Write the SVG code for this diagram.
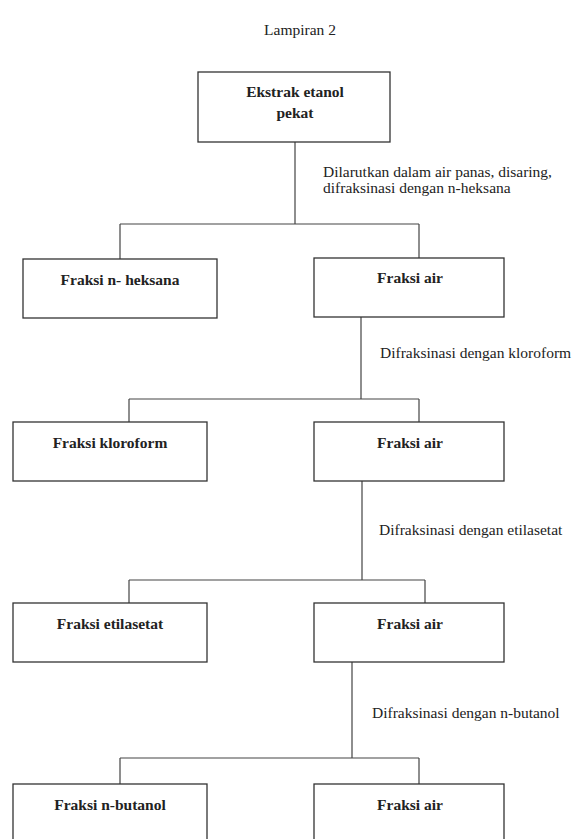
<svg xmlns="http://www.w3.org/2000/svg" width="582" height="839" viewBox="0 0 582 839">
<style>
.box{fill:#fff;stroke:#333;stroke-width:1.3}
.ln{fill:none;stroke:#444;stroke-width:1.2}
text{font-family:"Liberation Serif","Times New Roman","DejaVu Serif",serif;fill:#222}
.bt{font-weight:bold;font-size:15.5px;text-anchor:middle}
.lb{font-size:15.5px}
</style>
<rect width="582" height="839" fill="#fff"/>
<text class="lb" x="300" y="35" text-anchor="middle">Lampiran 2</text>
<g id="connectors">
<path class="ln" d="M295 142V224M120 224H419M120 224V259M419 224V258"/>
<path class="ln" d="M361 317V399M129 399H419M129 399V422M419 399V422"/>
<path class="ln" d="M362 481V580M129 580H425M129 580V603M425 580V603"/>
<path class="ln" d="M352 662V758M120 758H419M120 758V784M419 758V784"/>
</g>
<g id="labels">
<text class="lb" x="323" y="177">Dilarutkan dalam air panas, disaring,</text>
<text class="lb" x="323" y="193">difraksinasi dengan n-heksana</text>
<text class="lb" x="380" y="358">Difraksinasi dengan kloroform</text>
<text class="lb" x="379" y="535">Difraksinasi dengan etilasetat</text>
<text class="lb" x="372" y="718">Difraksinasi dengan n-butanol</text>
</g>
<g id="n0"><rect class="box" x="198" y="72" width="192" height="70"/><text class="bt" x="295" y="97">Ekstrak etanol</text><text class="bt" x="295" y="118">pekat</text></g>
<g id="n1"><rect class="box" x="23" y="259" width="194" height="59"/><text class="bt" x="120" y="285">Fraksi n- heksana</text></g>
<g id="n2"><rect class="box" x="314" y="258" width="190" height="59"/><text class="bt" x="410" y="283">Fraksi air</text></g>
<g id="n3"><rect class="box" x="13" y="422" width="194" height="59"/><text class="bt" x="110" y="448">Fraksi kloroform</text></g>
<g id="n4"><rect class="box" x="314" y="422" width="190" height="59"/><text class="bt" x="410" y="448">Fraksi air</text></g>
<g id="n5"><rect class="box" x="13" y="603" width="194" height="59"/><text class="bt" x="110" y="629">Fraksi etilasetat</text></g>
<g id="n6"><rect class="box" x="314" y="603" width="190" height="59"/><text class="bt" x="410" y="629">Fraksi air</text></g>
<g id="n7"><rect class="box" x="13" y="784" width="194" height="59"/><text class="bt" x="110" y="810">Fraksi n-butanol</text></g>
<g id="n8"><rect class="box" x="314" y="784" width="190" height="59"/><text class="bt" x="410" y="810">Fraksi air</text></g>
</svg>
